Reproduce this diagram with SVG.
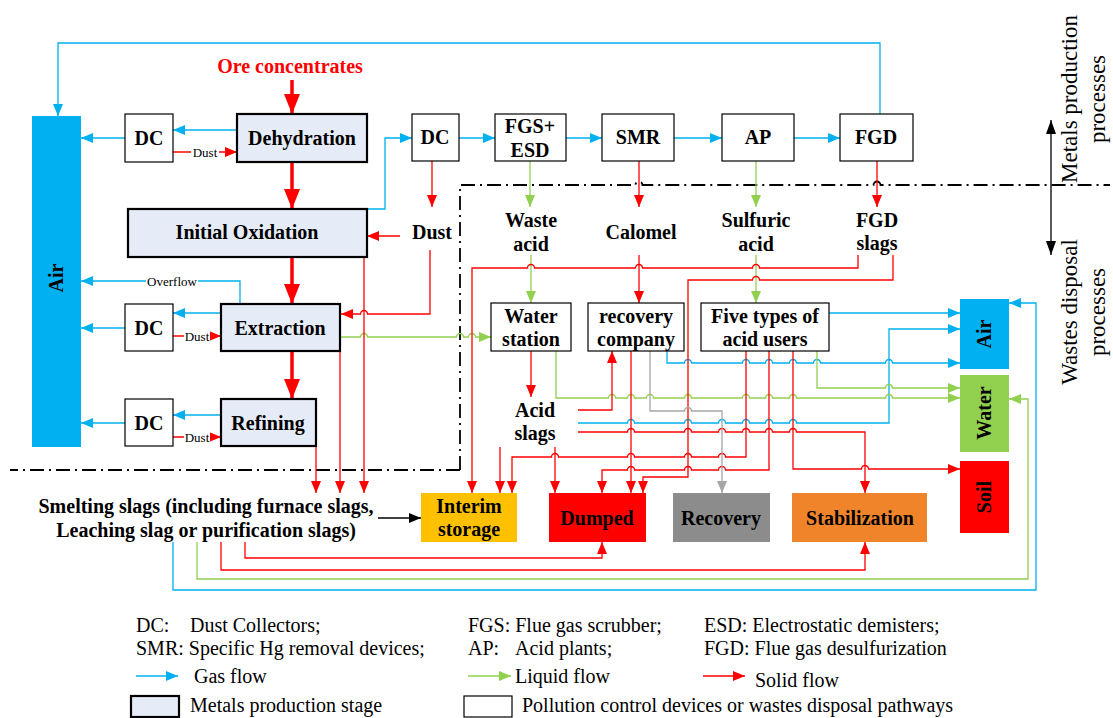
<svg xmlns="http://www.w3.org/2000/svg" width="1113" height="718" viewBox="0 0 1113 718">
<style>
.prod{fill:#E6ECF7;stroke:#000;stroke-width:2.2}
.box{fill:#fff;stroke:#000;stroke-width:1.2}
.t{font-family:"Liberation Serif",serif;font-weight:bold;font-size:20px;text-anchor:middle;fill:#000}
.lg{font-family:"Liberation Serif",serif;font-size:20px;fill:#000}
.sm{font-family:"Liberation Serif",serif;font-size:13px;text-anchor:middle;fill:#000}
.side{font-family:"Liberation Serif",serif;font-size:23px;text-anchor:middle;fill:#000}
.gas{fill:none;stroke:#00B0F0;stroke-width:1.3;marker-end:url(#mg)}
.liq{fill:none;stroke:#92D050;stroke-width:1.3;marker-end:url(#ml)}
.sol{fill:none;stroke:#FF0000;stroke-width:1.3;marker-end:url(#ms)}
.gry{fill:none;stroke:#A6A6A6;stroke-width:1.3;marker-end:url(#my)}
.big{fill:none;stroke:#FF0000;stroke-width:3.5;marker-end:url(#mb)}
.dd{fill:none;stroke:#000;stroke-width:1.8;stroke-dasharray:14 5 2 5}
</style>
<defs>
<marker id="mg" markerUnits="userSpaceOnUse" markerWidth="12" markerHeight="10" refX="12" refY="5" orient="auto"><path d="M0,0 L12,5 L0,10 z" fill="#00B0F0"/></marker>
<marker id="ml" markerUnits="userSpaceOnUse" markerWidth="12" markerHeight="10" refX="12" refY="5" orient="auto"><path d="M0,0 L12,5 L0,10 z" fill="#92D050"/></marker>
<marker id="ms" markerUnits="userSpaceOnUse" markerWidth="12" markerHeight="10" refX="12" refY="5" orient="auto"><path d="M0,0 L12,5 L0,10 z" fill="#FF0000"/></marker>
<marker id="my" markerUnits="userSpaceOnUse" markerWidth="12" markerHeight="10" refX="12" refY="5" orient="auto"><path d="M0,0 L12,5 L0,10 z" fill="#A6A6A6"/></marker>
<marker id="mk" markerUnits="userSpaceOnUse" markerWidth="12" markerHeight="10" refX="12" refY="5" orient="auto"><path d="M0,0 L12,5 L0,10 z" fill="#000"/></marker>
<marker id="mk2" markerUnits="userSpaceOnUse" markerWidth="14" markerHeight="10" refX="14" refY="5" orient="auto-start-reverse"><path d="M0,0 L14,5 L0,10 z" fill="#000"/></marker>
<marker id="mb" markerUnits="userSpaceOnUse" markerWidth="20" markerHeight="16" refX="20" refY="8" orient="auto"><path d="M0,0 L20,8 L0,16 z" fill="#FF0000"/></marker>
</defs>
<rect width="1113" height="718" fill="#fff"/>

<g id="boundary">
<path class="dd" d="M460,470 V185 H635.5 a3.5,3.5 0 0 1 7,0 H873.5 a3.5,3.5 0 0 1 7,0 H1110"/>
<path class="dd" d="M460,470 H10"/>
<path d="M1051,120 V255" fill="none" stroke="#000" stroke-width="1.3" marker-start="url(#mk2)" marker-end="url(#mk2)"/>
<text class="side" transform="translate(1077,99) rotate(-90)">Metals production</text>
<text class="side" transform="translate(1105,99) rotate(-90)">processes</text>
<text class="side" transform="translate(1077,312) rotate(-90)">Wastes disposal</text>
<text class="side" transform="translate(1105,312) rotate(-90)">processes</text>
</g>

<g id="connectors">
<path class="big" d="M292,80 V114"/>
<path class="big" d="M292,162 V209"/>
<path class="big" d="M292,257 V304"/>
<path class="big" d="M292,351 V399"/>
<path class="gas" d="M880,114 V43 H58 V116"/>
<path class="gas" d="M237,130 H173"/>
<path class="gas" d="M125,138 H81"/>
<path class="gas" d="M367,209 H385 V138 H412"/>
<path class="gas" d="M459,138 H495"/>
<path class="gas" d="M566,138 H602"/>
<path class="gas" d="M674,138 H722"/>
<path class="gas" d="M794,138 H840"/>
<path class="gas" d="M240,304 V281 H81"/>
<path class="gas" d="M221,313 H173"/>
<path class="gas" d="M125,328 H81"/>
<path class="gas" d="M221,415 H173"/>
<path class="gas" d="M125,423 H81"/>
<path class="gas" d="M829,313 H960"/>
<path class="gas" d="M578,423 H627.5 a3.5,3.5 0 0 1 7,0 H684.5 a3.5,3.5 0 0 1 7,0 H718.5 a3.5,3.5 0 0 1 7,0 H742.5 a3.5,3.5 0 0 1 7,0 H765.5 a3.5,3.5 0 0 1 7,0 H789.5 a3.5,3.5 0 0 1 7,0 H889 V329 H960"/>
<path class="gas" d="M667,351 V363 H684.5 a3.5,3.5 0 0 1 7,0 H742.5 a3.5,3.5 0 0 1 7,0 H765.5 a3.5,3.5 0 0 1 7,0 H789.5 a3.5,3.5 0 0 1 7,0 H813.5 a3.5,3.5 0 0 1 7,0 H885.5 a3.5,3.5 0 0 1 7,0 H960"/>
<path class="gas" d="M173,542 V590 H1036 V303 H1009"/>
<path class="liq" d="M530,161 V207"/>
<path class="liq" d="M531,255 V303"/>
<path class="liq" d="M756,161 V207"/>
<path class="liq" d="M756,255 V303"/>
<path class="liq" d="M341,337 H360.5 a3.5,3.5 0 0 1 7,0 H456.5 a3.5,3.5 0 0 1 7,0 H468.5 a3.5,3.5 0 0 1 7,0 H491"/>
<path class="liq" d="M556,351 V398 H608.5 a3.5,3.5 0 0 1 7,0 H627.5 a3.5,3.5 0 0 1 7,0 H646.5 a3.5,3.5 0 0 1 7,0 H684.5 a3.5,3.5 0 0 1 7,0 H742.5 a3.5,3.5 0 0 1 7,0 H765.5 a3.5,3.5 0 0 1 7,0 H789.5 a3.5,3.5 0 0 1 7,0 H885.5 a3.5,3.5 0 0 1 7,0 H960"/>
<path class="liq" d="M817,351 V388 H885.5 a3.5,3.5 0 0 1 7,0 H960"/>
<path class="liq" d="M197,542 V579 H1028 V399 H1009"/>
<path class="sol" d="M173,152 H237"/>
<path class="sol" d="M173,336 H221"/>
<path class="sol" d="M173,437 H221"/>
<path class="sol" d="M432,161 V207"/>
<path class="sol" d="M400,236 H367"/>
<path class="sol" d="M430,250 V314 H367.5 a3.5,3.5 0 0 0 -7,0 H341"/>
<path class="sol" d="M364,257 V493"/>
<path class="sol" d="M340,351 V493"/>
<path class="sol" d="M316,446 V493"/>
<path class="sol" d="M639,161 V207"/>
<path class="sol" d="M639,255 V303"/>
<path class="sol" d="M877,161 V207"/>
<path class="sol" d="M858,255 V268 H759.5 a3.5,3.5 0 0 0 -7,0 H642.5 a3.5,3.5 0 0 0 -7,0 H534.5 a3.5,3.5 0 0 0 -7,0 H472 V493"/>
<path class="sol" d="M893,255 V280 H759.5 a3.5,3.5 0 0 0 -7,0 H688 V477 H643 V493"/>
<path class="sol" d="M531,351 V397"/>
<path class="sol" d="M578,410 H612 V351"/>
<path class="sol" d="M631,351 V493"/>
<path class="sol" d="M500,447 V493"/>
<path class="sol" d="M555,447 V493"/>
<path class="sol" d="M746,351 V457 H725.5 a3.5,3.5 0 0 0 -7,0 H691.5 a3.5,3.5 0 0 0 -7,0 H634.5 a3.5,3.5 0 0 0 -7,0 H558.5 a3.5,3.5 0 0 0 -7,0 H512 V493"/>
<path class="sol" d="M769,351 V470 H725.5 a3.5,3.5 0 0 0 -7,0 H691.5 a3.5,3.5 0 0 0 -7,0 H634.5 a3.5,3.5 0 0 0 -7,0 H602 V493"/>
<path class="sol" d="M793,351 V469 H861.5 a3.5,3.5 0 0 1 7,0 H960"/>
<path class="sol" d="M578,432 H627.5 a3.5,3.5 0 0 1 7,0 H684.5 a3.5,3.5 0 0 1 7,0 H718.5 a3.5,3.5 0 0 1 7,0 H742.5 a3.5,3.5 0 0 1 7,0 H765.5 a3.5,3.5 0 0 1 7,0 H789.5 a3.5,3.5 0 0 1 7,0 H865 V493"/>
<path class="sol" d="M245,542 V558 H602 V542"/>
<path class="sol" d="M221,542 V570 H865 V542"/>
<path class="gry" d="M650,351 V411 H684.5 a3.5,3.5 0 0 1 7,0 H722 V493"/>
<path d="M378,518 H421" fill="none" stroke="#000" stroke-width="1.3" marker-end="url(#mk)"/>
<rect x="191" y="146" width="28" height="12" fill="#fff"/>
<text class="sm" x="205" y="156.5">Dust</text>
<rect x="184" y="330" width="26" height="12" fill="#fff"/>
<text class="sm" x="197" y="340.5">Dust</text>
<rect x="184" y="431" width="26" height="12" fill="#fff"/>
<text class="sm" x="197" y="441.5">Dust</text>
<rect x="146" y="275" width="52" height="12" fill="#fff"/>
<text class="sm" x="172" y="285.5">Overflow</text>
</g>

<g id="air-left"><rect x="32" y="116" width="49" height="331" fill="#00B0F0"/><text class="t" transform="translate(63,278) rotate(-90)">Air</text></g>
<g id="ore"><text class="t" x="290" y="73" style="fill:#FF0000">Ore concentrates</text></g>
<g id="dc1"><rect class="box" x="125" y="114" width="48" height="48"/><text class="t" x="149" y="145">DC</text></g>
<g id="dehydration"><rect class="prod" x="237" y="114" width="130" height="48"/><text class="t" x="302" y="145">Dehydration</text></g>
<g id="initial-oxidation"><rect class="prod" x="128" y="209" width="239" height="48"/><text class="t" x="247" y="239">Initial Oxidation</text></g>
<g id="dc2"><rect class="box" x="412" y="114" width="47" height="47"/><text class="t" x="435" y="144">DC</text></g>
<g id="fgs-esd"><rect class="box" x="495" y="114" width="71" height="47"/><text class="t" x="530" y="133">FGS+</text><text class="t" x="530" y="157">ESD</text></g>
<g id="smr"><rect class="box" x="602" y="114" width="72" height="47"/><text class="t" x="638" y="144">SMR</text></g>
<g id="ap"><rect class="box" x="722" y="114" width="72" height="47"/><text class="t" x="758" y="144">AP</text></g>
<g id="fgd"><rect class="box" x="840" y="114" width="73" height="47"/><text class="t" x="876" y="144">FGD</text></g>
<g id="dust"><text class="t" x="432" y="239">Dust</text></g>
<g id="dc3"><rect class="box" x="125" y="304" width="48" height="47"/><text class="t" x="149" y="335">DC</text></g>
<g id="extraction"><rect class="prod" x="221" y="304" width="119" height="47"/><text class="t" x="280" y="335">Extraction</text></g>
<g id="dc4"><rect class="box" x="125" y="399" width="48" height="47"/><text class="t" x="149" y="430">DC</text></g>
<g id="refining"><rect class="prod" x="221" y="399" width="95" height="47"/><text class="t" x="268" y="430">Refining</text></g>
<g id="waste-acid"><text class="t" x="531" y="227">Waste</text><text class="t" x="531" y="251">acid</text></g>
<g id="calomel"><text class="t" x="641" y="239">Calomel</text></g>
<g id="sulfuric-acid"><text class="t" x="756" y="227">Sulfuric</text><text class="t" x="756" y="251">acid</text></g>
<g id="fgd-slags"><text class="t" x="877" y="227">FGD</text><text class="t" x="877" y="250">slags</text></g>
<g id="water-station"><rect class="box" x="491" y="303" width="80" height="48"/><text class="t" x="531" y="323">Water</text><text class="t" x="531" y="346">station</text></g>
<g id="recovery-company"><rect class="box" x="588" y="303" width="96" height="48"/><text class="t" x="636" y="323">recovery</text><text class="t" x="636" y="346">company</text></g>
<g id="acid-users"><rect class="box" x="701" y="303" width="128" height="48"/><text class="t" x="765" y="323">Five types of</text><text class="t" x="765" y="346">acid users</text></g>
<g id="acid-slags"><text class="t" x="535" y="417">Acid</text><text class="t" x="535" y="440">slags</text></g>
<g id="smelting-slags"><text class="t" x="206" y="513">Smelting slags (including furnace slags,</text><text class="t" x="206" y="537">Leaching slag or purification slags)</text></g>
<g id="interim-storage"><rect x="421" y="493" width="96" height="49" fill="#FFC000"/><text class="t" x="469" y="513">Interim</text><text class="t" x="469" y="536">storage</text></g>
<g id="dumped"><rect x="549" y="493" width="97" height="49" fill="#FF0000"/><text class="t" x="597" y="525">Dumped</text></g>
<g id="recovery"><rect x="673" y="493" width="97" height="49" fill="#8C8C8C"/><text class="t" x="721" y="525">Recovery</text></g>
<g id="stabilization"><rect x="792" y="493" width="135" height="49" fill="#F0842A"/><text class="t" x="860" y="525">Stabilization</text></g>
<g id="air-right"><rect x="960" y="299" width="49" height="70" fill="#00B0F0"/><text class="t" transform="translate(991,334) rotate(-90)">Air</text></g>
<g id="water"><rect x="960" y="375" width="49" height="77" fill="#92D050"/><text class="t" transform="translate(991,413) rotate(-90)">Water</text></g>
<g id="soil"><rect x="960" y="461" width="49" height="72" fill="#FF0000"/><text class="t" transform="translate(991,497) rotate(-90)">Soil</text></g>

<g id="legend">
<text class="lg" x="136" y="632">DC:</text><text class="lg" x="190" y="632">Dust Collectors;</text>
<text class="lg" x="468" y="632">FGS: Flue gas scrubber;</text>
<text class="lg" x="704" y="632">ESD: Electrostatic demisters;</text>
<text class="lg" x="136" y="655">SMR: Specific Hg removal devices;</text>
<text class="lg" x="468" y="655">AP:</text><text class="lg" x="515" y="655">Acid plants;</text>
<text class="lg" x="704" y="655">FGD: Flue gas desulfurization</text>
<path class="gas" d="M136,676 H178"/><text class="lg" x="194" y="683">Gas flow</text>
<path class="liq" d="M468,676 H511"/><text class="lg" x="515" y="683">Liquid flow</text>
<path class="sol" d="M703,676 H745"/><text class="lg" x="755" y="687">Solid flow</text>
<rect class="prod" x="131" y="696" width="48" height="21"/><text class="lg" x="190" y="712">Metals production stage</text>
<rect class="box" x="464" y="696" width="48" height="21"/><text class="lg" x="522" y="712">Pollution control devices or wastes disposal pathways</text>
</g>
</svg>
